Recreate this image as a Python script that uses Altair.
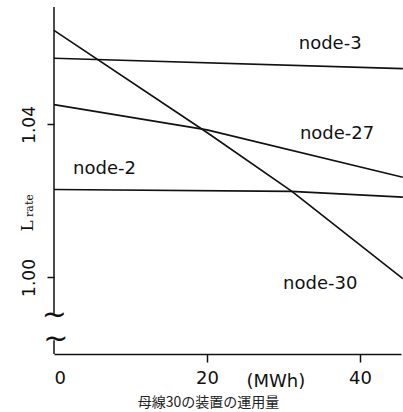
import altair as alt
import pandas as pd

# series
node3_x = [0, 45.6]
node3_y = [1.0573, 1.0546]
node27_x = [0, 20, 45.6]
node27_y = [1.0452, 1.0386, 1.0262]
node2_x = [0, 31, 45.6]
node2_y = [1.0230, 1.0225, 1.0210]
node30_x = [0, 20, 31.1, 45.6]
node30_y = [1.0646, 1.0379, 1.0225, 0.9997]

label_names = ["node-3", "node-27", "node-2", "node-30"]
label_x = [36.1, 37.0, 6.6, 34.8]
label_y = [1.0610, 1.0374, 1.0283, 0.9982]

x_ticks = [0, 20, 40]
y_ticks = [1.00, 1.04]

rows = []
for name, xs_, ys_ in [("node-3", node3_x, node3_y), ("node-27", node27_x, node27_y),
                       ("node-2", node2_x, node2_y), ("node-30", node30_x, node30_y)]:
    for xv, yv in zip(xs_, ys_):
        rows.append({"series": name, "x": xv, "y": yv})
df = pd.DataFrame(rows)
labels = pd.DataFrame({"name": label_names, "x": label_x, "y": label_y})

xs = alt.Scale(domain=[0, 45.36], nice=False, zero=False)
ys = alt.Scale(domain=[0.98, 1.0707], nice=False, zero=False)

base_x = alt.X("x:Q", scale=xs,
               axis=alt.Axis(values=x_ticks, format="d", title=None, grid=False,
                             domainColor="#111", domainWidth=1.5,
                             tickColor="#111", tickWidth=1.5, tickSize=8,
                             tickOpacity=alt.expr("datum.value == 0 ? 0 : 1"),
                             labelFont="DejaVu Sans", labelFontSize=18, labelColor="#111",
                             labelPadding=7))
base_y = alt.Y("y:Q", scale=ys,
               axis=alt.Axis(values=y_ticks, format=".2f", title=None, grid=False,
                             domain=False, tickColor="#111", tickWidth=1.5, tickSize=7,
                             labelAngle=270, labelAlign="center", labelBaseline="bottom",
                             labelFont="DejaVu Sans", labelFontSize=17, labelColor="#111",
                             labelPadding=9))

lines = alt.Chart(df).mark_line(color="#111", strokeWidth=1.7, clip=False).encode(
    x=base_x, y=base_y, detail="series:N")

txt = alt.Chart(labels).mark_text(font="DejaVu Sans", fontSize=18, color="#111").encode(
    x=alt.X("x:Q", scale=xs), y=alt.Y("y:Q", scale=ys), text="name:N")

# broken y axis segments
axis_seg = pd.DataFrame({"x": [0, 0], "y": [0.9905, 0.98], "y2": [1.0707, 0.9836]})
yaxis = alt.Chart(axis_seg).mark_rule(color="#111", strokeWidth=1.5).encode(
    x=alt.X("x:Q", scale=xs), y=alt.Y("y:Q", scale=ys), y2="y2:Q")

brk = pd.DataFrame({"x": [0.05, 0.25], "y": [0.9903, 0.9838], "t": ["~", "~"]})
breaks = alt.Chart(brk).mark_text(font="DejaVu Sans", fontSize=30, color="#111",
                                  baseline="middle").encode(
    x=alt.X("x:Q", scale=xs), y=alt.Y("y:Q", scale=ys), text="t:N")

mwh_df = pd.DataFrame({"x": [29.0], "y": [0.9727], "t": ["(MWh)"]})
jp_df = pd.DataFrame({"x": [20.2], "y": [0.9673], "t": ["母線30の装置の運用量"]})
mwh = alt.Chart(mwh_df).mark_text(font="DejaVu Sans", fontSize=18, color="#111").encode(
    x=alt.X("x:Q", scale=xs), y=alt.Y("y:Q", scale=ys), text="t:N")
jp = alt.Chart(jp_df).mark_text(font="Noto Sans CJK JP", fontSize=14, color="#222").encode(
    x=alt.X("x:Q", scale=xs), y=alt.Y("y:Q", scale=ys), text="t:N")

# y-axis label "L" with subscript "rate", read bottom-to-top
ylab_L = pd.DataFrame({"x": [-2.7], "y": [1.0135], "t": ["L"]})
ylab_r = pd.DataFrame({"x": [-2.75], "y": [1.0188], "t": ["rate"]})
lab_L = alt.Chart(ylab_L).mark_text(font="DejaVu Serif", fontSize=17, color="#111",
                                    angle=270, baseline="alphabetic").encode(
    x=alt.X("x:Q", scale=xs), y=alt.Y("y:Q", scale=ys), text="t:N")
lab_r = alt.Chart(ylab_r).mark_text(font="DejaVu Serif", fontSize=11, color="#111",
                                    angle=270, baseline="alphabetic").encode(
    x=alt.X("x:Q", scale=xs), y=alt.Y("y:Q", scale=ys), text="t:N")

chart = alt.layer(lines, yaxis, breaks, txt, mwh, jp, lab_L, lab_r).properties(
    width=347, height=347,
    autosize=alt.AutoSizeParams(type="none"),
    padding={"left": 54, "top": 7, "right": 2, "bottom": 58},
    background="white",
).configure_view(stroke=None)

chart.save("out.html", embed_options={"renderer": "svg", "actions": False})
